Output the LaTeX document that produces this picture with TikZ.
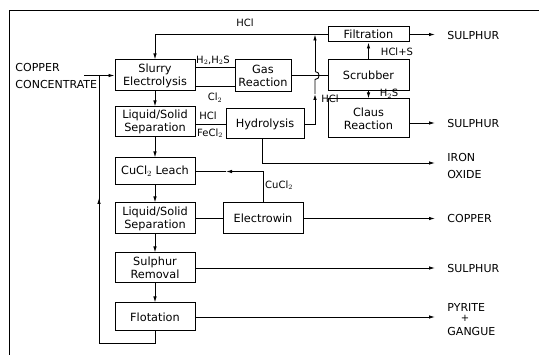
\documentclass[tikz,border=0pt]{standalone}
\usepackage{fontspec}
\setmainfont{DejaVu Sans}
\usetikzlibrary{arrows.meta}
\begin{document}
\begin{tikzpicture}[x=1pt,y=-1pt,
  line width=0.9pt,
  box/.style={draw, line width=1pt, inner sep=0pt, align=center, font=\fontsize{11.3}{13}\selectfont},
  arr/.style={-{Latex[length=6pt,width=3.5pt]}},
  lab/.style={inner sep=0pt, font=\fontsize{10}{11}\selectfont},
  outl/.style={inner sep=0pt, anchor=west, font=\fontsize{11}{12}\selectfont}]
\useasboundingbox (0,0) rectangle (539,355);
% frame
\draw (9,355) -- (9,10) -- (539,10);
% boxes
\node[box, minimum width=80pt, minimum height=31pt] (slurry) at (155,75.5) {Slurry\\Electrolysis};
\node[box, minimum width=80pt, minimum height=30pt] (ls1) at (155,122) {Liquid/Solid\\Separation};
\node[box, minimum width=80pt, minimum height=27pt] (leach) at (155,171.5) {CuCl$_2$ Leach};
\node[box, minimum width=80pt, minimum height=31pt] (ls2) at (155,218.5) {Liquid/Solid\\Separation};
\node[box, minimum width=80pt, minimum height=30pt] (srem) at (155,268) {Sulphur\\Removal};
\node[box, minimum width=80pt, minimum height=28pt] (flot) at (155,317) {Flotation};
\node[box, minimum width=56pt, minimum height=32pt] (gas) at (263,75.5) {Gas\\Reaction};
\node[box, minimum width=78pt, minimum height=30pt] (hyd) at (265,124) {Hydrolysis};
\node[box, minimum width=81pt, minimum height=15pt] (filt) at (368.5,34.5) {Filtration};
\node[box, minimum width=81pt, minimum height=31pt] (scrub) at (368.5,75.5) {Scrubber};
\node[box, minimum width=81pt, minimum height=39pt] (claus) at (368.5,118.5) {Claus\\Reaction};
\node[box, minimum width=80pt, minimum height=31pt] (elec) at (263,218.5) {Electrowin};
% left feed text
\node[outl] (cc1) at (15,67) {COPPER};
\node[outl] (cc2) at (15,84) {CONCENTRATE};
% outputs text
\node[outl] (o1t) at (447,35) {SULPHUR};
\node[outl] (o2t) at (447,123) {SULPHUR};
\node[outl] (o3t) at (447,157) {IRON};
\node[outl] (o3u) at (447,174) {OXIDE};
\node[outl] (o4t) at (447,218.5) {COPPER};
\node[outl] (o5t) at (447,268) {SULPHUR};
\node[outl] (o6t) at (447,307) {PYRITE};
\node[lab] (o6p) at (465,318.5) {+};
\node[outl] (o6u) at (447,331) {GANGUE};
% coordinates
\coordinate (feed) at (84,75.5);
\coordinate (rb) at (99,343);
\coordinate (rmid) at (99,198);
\coordinate (rtop) at (99,75.5);
\coordinate (tl) at (155,34.5);
\coordinate (hj) at (315,34.5);
\coordinate (hmid) at (315,94);
\coordinate (hop1) at (315,79.5);
\coordinate (hop2) at (315,71.5);
\coordinate (ironend) at (435,163);
\coordinate (o1) at (435,34.5);
\coordinate (o2) at (435,123);
\coordinate (o4) at (435,218.5);
\coordinate (o5) at (435,268);
\coordinate (o6) at (435,317);
\coordinate (ec) at (263,171.5);
\coordinate (lm) at (226,171.5);
% main column
\draw[arr] (slurry) -- (ls1);
\draw[arr] (ls1) -- (leach);
\draw[arr] (leach) -- (ls2);
\draw[arr] (ls2) -- (srem);
\draw[arr] (srem) -- (flot);
% feed and recycle
\draw[arr] (feed) -- (slurry.west);
\draw (flot.south) |- (rb) -| (rmid);
\draw[arr] (rb -| rmid) -- (rmid);
\draw (rmid) -- (rtop);
% HCl recycle
\draw[arr] (filt.west) -- (tl) -- (slurry.north);
\node[lab] (hcltop) at (245,23) {HCl};
% slurry to gas
\draw ([yshift=8.5pt]slurry.east) -- ([yshift=8.5pt]slurry.east -| gas.west);
\draw ([yshift=-10.5pt]slurry.east) -- ([yshift=-10.5pt]slurry.east -| gas.west);
\node[lab] (h2s) at (213,60.5) {H$_2$,H$_2$S};
\node[lab] (cl2) at (215,97.5) {Cl$_2$};
% gas to scrubber
\draw (gas.east) -- (scrub.west);
% ls1 to hydrolysis
\draw (ls1.east |- hyd.west) -- (hyd.west);
\node[lab] (hcl2) at (208,116) {HCl};
\node[lab] (fecl2) at (210,133) {FeCl$_2$};
% hydrolysis HCl up
\draw[arr] (hyd.east) -| (hmid);
\draw (hmid) -- (hop1) .. controls (320.5,79.5) and (320.5,71.5) .. (hop2);
\draw[arr] (hop2) -- (hj);
\node[lab, anchor=west] (hcl3) at (321,99) {HCl};
% hydrolysis to iron oxide
\draw[arr] ([xshift=-3pt]hyd.south) |- (ironend);
% scrubber
\draw[arr] (scrub.north) -- (filt.south);
\node[lab] (hcls) at (397,51.5) {HCl+S};
\draw[arr] (scrub.south) -- (claus.north);
\node[lab] (h2s2) at (389,94) {H$_2$S};
% outputs
\draw[arr] (filt.east) -- (o1);
\draw[arr] (claus.east |- o2) -- (o2);
\draw[arr] (elec.east) -- (o4);
\draw[arr] (srem.east) -- (o5);
\draw[arr] (flot.east) -- (o6);
% electrowin
\draw (ls2.east) -- (elec.west);
\draw (elec.north) -- (ec);
\draw[arr] (ec) -- (lm);
\draw (lm) -- (leach.east);
\node[lab] (cucl2) at (279,185) {CuCl$_2$};
\end{tikzpicture}
\end{document}
